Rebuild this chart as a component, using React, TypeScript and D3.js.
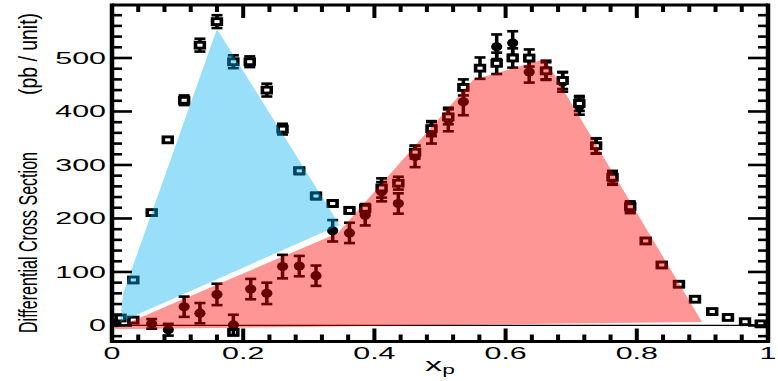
import React from 'react';
import * as d3 from 'd3';

const W = 778;
const H = 381;

// Open-square measurements: [x_p, value, error]
const openSquares: [number, number, number][] = [
  [0.013, 14, 3], [0.0325, 85, 3], [0.0605, 211, 4], [0.085, 347, 4],
  [0.11, 421, 9], [0.134, 524, 12], [0.16, 568, 12], [0.185, 493, 12],
  [0.21, 493, 10], [0.236, 440, 12], [0.26, 367, 10], [0.2855, 289, 6],
  [0.311, 242, 6], [0.3364, 228, 6], [0.362, 215, 6], [0.386, 219, 8],
  [0.411, 257, 18], [0.4365, 266, 12], [0.462, 324, 12], [0.487, 368, 14],
  [0.5127, 390, 14], [0.5356, 445, 15], [0.561, 481, 20], [0.5864, 490, 20],
  [0.6108, 500, 18], [0.636, 500, 16], [0.6616, 476, 16], [0.687, 458, 16],
  [0.7124, 415, 14], [0.738, 336, 14], [0.763, 277, 12], [0.79, 222, 10],
  [0.8135, 158, 5], [0.838, 113, 5], [0.8643, 77, 4], [0.8887, 49, 3],
  [0.915, 26, 2], [0.939, 15, 2], [0.965, 7, 2], [0.989, 3, 2],
];

// Second open-square set near zero
const openSquaresLow: [number, number, number][] = [
  [0.0325, 10, 3], [0.185, -13, 4],
];

// Filled-marker measurements: [x_p, value, error]
const filledPoints: [number, number, number][] = [
  [0.006, 5, 4], [0.0605, 3, 9], [0.0858, -8, 11], [0.11, 35, 19],
  [0.134, 23, 19], [0.16, 58, 20], [0.185, 1, 19], [0.2114, 68, 19],
  [0.236, 60, 20], [0.26, 110, 22], [0.2855, 111, 19], [0.311, 93, 19],
  [0.3364, 177, 20], [0.362, 173, 19], [0.386, 206, 19], [0.411, 250, 18],
  [0.4365, 228, 19], [0.462, 316, 20], [0.487, 360, 20], [0.5127, 385, 22],
  [0.5356, 418, 25], [0.5864, 521, 23], [0.6108, 528, 22], [0.636, 474, 20],
  [0.6616, 477, 18], [0.687, 455, 18], [0.7124, 410, 16], [0.738, 335, 14],
  [0.763, 275, 12], [0.79, 220, 10],
];

// Shaded regions: polygon vertices [x_p, value]
const blueRegion: [number, number][] = [
  [0.012, 6], [0.017, 60], [0.16, 554], [0.347, 188],
];
const redRegion: [number, number][] = [
  [0.0015, -7], [0.3445, 173], [0.5503, 459], [0.66, 498], [0.8994, 6.5],
];

const xMajor = [0, 0.2, 0.4, 0.6, 0.8, 1];
const xLabels = ['0', '0.2', '0.4', '0.6', '0.8', '1'];
const yMajor = [0, 100, 200, 300, 400, 500];
const yLabels = ['0', '100', '200', '300', '400', '500'];

const FONT = '"Liberation Sans", Arial, Helvetica, sans-serif';
const STRETCH = 1.9;

export default function App() {
  const left = 112, right = 768, top = 5, bottom = 341.5;
  const x = d3.scaleLinear().domain([0, 1]).range([left, right]);
  const y = d3.scaleLinear().domain([-30, 600]).range([bottom, 4.5]);

  const xMinor = d3.range(0, 1.0001, 0.04);
  const yMinor = d3.range(-20, 600, 20);

  const poly = (pts: [number, number][]) =>
    (d3.line<[number, number]>().x(d => x(d[0])).y(d => y(d[1]))(pts) || '') + 'Z';

  const errBar = (px: number, v: number, e: number, key: string) => {
    if (e <= 0) return null;
    const y1 = y(v + e), y2 = y(v - e);
    return (
      <g key={key} stroke="#000">
        <line x1={px} x2={px} y1={y1} y2={y2} strokeWidth={3.5} />
        <line x1={px - 5.5} x2={px + 5.5} y1={y1} y2={y1} strokeWidth={2.6} />
        <line x1={px - 5.5} x2={px + 5.5} y1={y2} y2={y2} strokeWidth={2.6} />
      </g>
    );
  };

  const square = (d: [number, number, number], i: number, tag: string) => {
    const px = x(d[0]), py = y(d[1]);
    return (
      <g key={tag + i}>
        {errBar(px, d[1], d[2], tag + 'e' + i)}
        <rect x={px - 6.2} y={py - 4.4} width={12.4} height={8.8} fill="#000" />
        <rect x={px - 2.6} y={py - 1.5} width={5.2} height={3} fill="#fff" />
      </g>
    );
  };

  const filled = (d: [number, number, number], i: number) => {
    const px = x(d[0]), py = y(d[1]);
    return (
      <g key={'f' + i}>
        {errBar(px, d[1], d[2], 'fe' + i)}
        <ellipse cx={px} cy={py} rx={5.6} ry={4.6} fill="#000" />
      </g>
    );
  };

  return (
    <svg
      width={W}
      height={H}
      style={{ position: 'fixed', left: 0, top: 0, background: '#fff' }}
      fontFamily={FONT}
    >
      <rect x={0} y={0} width={W} height={H} fill="#fff" />

      {/* zero line */}
      <line x1={left} x2={right} y1={y(0)} y2={y(0)} stroke="#000" strokeWidth={1.2} />

      {/* measurements */}
      {openSquaresLow.map((d, i) => square(d, i, 'sl'))}
      {filledPoints.map((d, i) => filled(d, i))}
      {openSquares.map((d, i) => square(d, i, 's'))}

      {/* translucent shaded regions on top of the markers */}
      <path d={poly(blueRegion)} fill="rgb(0,176,240)" fillOpacity={0.4} />
      <path d={poly(redRegion)} fill="rgb(255,0,0)" fillOpacity={0.41} />

      {/* frame */}
      <line x1={left} x2={right} y1={top} y2={top} stroke="#000" strokeWidth={3} />
      <line x1={left} x2={right} y1={bottom} y2={bottom} stroke="#000" strokeWidth={3} />
      <line x1={left} x2={left} y1={top - 1.5} y2={bottom + 1.5} stroke="#000" strokeWidth={4.5} />
      <line x1={right} x2={right} y1={top - 1.5} y2={bottom + 1.5} stroke="#000" strokeWidth={4.5} />

      {/* x ticks, bottom and top, pointing inward */}
      {xMinor.map((v, i) => {
        const major = xMajor.some(m => Math.abs(m - v) < 1e-6);
        const len = major ? 13 : 7;
        return (
          <g key={'xt' + i} stroke="#000" strokeWidth={4}>
            <line x1={x(v)} x2={x(v)} y1={bottom} y2={bottom - len} />
            <line x1={x(v)} x2={x(v)} y1={top} y2={top + len} />
          </g>
        );
      })}

      {/* y ticks, left and right, pointing inward */}
      {yMinor.map((v, i) => {
        const major = v % 100 === 0;
        const len = major ? 20 : 10;
        return (
          <g key={'yt' + i} stroke="#000" strokeWidth={2.6}>
            <line x1={left} x2={left + len} y1={y(v)} y2={y(v)} />
            <line x1={right} x2={right - len} y1={y(v)} y2={y(v)} />
          </g>
        );
      })}

      {/* x tick labels */}
      {xMajor.map((v, i) => (
        <text
          key={'xl' + i}
          transform={`translate(${x(v)},${358.5}) scale(${STRETCH},1)`}
          textAnchor="middle"
          fontSize={16}
          fill="#000"
        >
          {xLabels[i]}
        </text>
      ))}

      {/* y tick labels */}
      {yMajor.map((v, i) => (
        <text
          key={'yl' + i}
          transform={`translate(${106},${y(v) + 6}) scale(${STRETCH},1)`}
          textAnchor="end"
          fontSize={16}
          fill="#000"
        >
          {yLabels[i]}
        </text>
      ))}

      {/* x axis title */}
      <g transform={`translate(${x(0.5)},${371}) scale(${STRETCH},1)`}>
        <text textAnchor="middle" fontSize={18} fill="#000">
          x<tspan fontSize={12} dy={3}>p</tspan>
        </text>
      </g>

      {/* y axis title */}
      <g transform={`translate(37,242.5) scale(1.85,1) rotate(-90)`}>
        <text textAnchor="middle" fontSize={14} fill="#000" textLength={181} lengthAdjust="spacingAndGlyphs">
          Differential Cross Section
        </text>
      </g>
      <g transform={`translate(37,54) scale(1.85,1) rotate(-90)`}>
        <text textAnchor="middle" fontSize={14} fill="#000" textLength={82} lengthAdjust="spacingAndGlyphs">
          (pb / unit)
        </text>
      </g>
    </svg>
  );
}
